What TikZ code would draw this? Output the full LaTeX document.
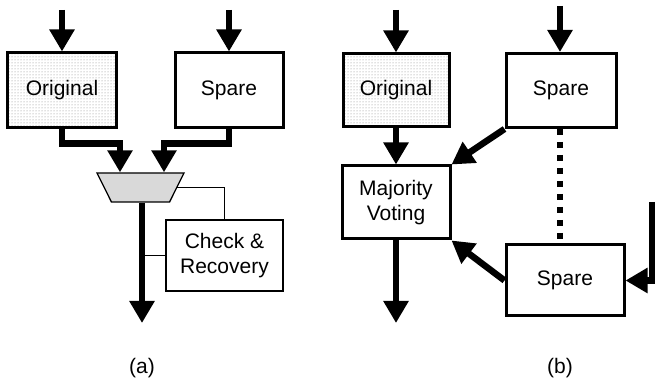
\documentclass[tikz,border=0pt]{standalone}
\usepackage{fontspec}
\setmainfont{Liberation Sans}
\usetikzlibrary{positioning, arrows.meta, shapes.geometric, patterns}

\begin{document}
\begin{tikzpicture}[x=1pt, y=-1pt, on grid,
    font=\fontsize{21}{24.5}\selectfont,
    box/.style = {draw, line width=3pt, align=center},
    unit/.style = {box, pattern=dots, pattern color=black!50},
    bus/.style = {line width=6.5pt, -{Triangle[width=24pt, length=22pt]}},
    wire/.style = {line width=1.3pt},
    dots line/.style = {line width=6.5pt, dash pattern=on 6.5pt off 6.5pt}]
  \useasboundingbox (0,0) rectangle (657,387);

  \node[unit, minimum width=109pt, minimum height=75pt] (origA) at (62,90.5) {Original};
  \node[box, minimum width=108pt, minimum height=75pt] (spareA) [right=167pt of origA] {Spare};
  \node[trapezium, shape border rotate=180, trapezium angle=76, trapezium stretches=true,
        draw, wire, fill=black!15, minimum width=87pt, minimum height=29pt] (mux) at (140.5,187.5) {};
  \node[box, line width=1.3pt, minimum width=117pt, minimum height=71pt] (chkA) at (224.5,255.5) {Check \&\\Recovery};
  \coordinate (inA1) at (62,10);
  \coordinate (inA2) at (229,10);
  \coordinate (outA) at (142,323);
  \node (labA) at (142,368) {(a)};

  \draw[bus] (inA1) -- (origA.north);
  \draw[bus] (inA2) -- (spareA.north);
  \draw[bus] (origA.south) -- ++(0,14) -| ([xshift=-20.5pt]mux.north);
  \draw[bus] (spareA.south) -- ++(0,14) -| ([xshift=23.5pt]mux.north);
  \draw[bus] (mux.south -| outA) -- (outA);
  \draw[wire] (mux.east) -| (chkA.north);
  \draw[wire] (chkA.west) -- (chkA.west -| outA);

  \node[unit, minimum width=106pt, minimum height=73pt] (origB) at (396,90.5) {Original};
  \node[box, minimum width=110pt, minimum height=74pt] (spareB1) [right=165pt of origB] {Spare};
  \node[box, minimum width=108pt, minimum height=73pt] (mvB) [below=112pt of origB] {Majority\\Voting};
  \node[box, minimum width=118pt, minimum height=71pt] (spareB2) at (565,280.5) {Spare};
  \coordinate (inB1) at (396,10);
  \coordinate (inB2) at (560,6);
  \coordinate (inB3) at (652,202);
  \coordinate (outB) at (396,323);
  \node (labB) at (560,368) {(b)};

  \draw[bus] (inB1) -- (origB.north);
  \draw[bus] (inB2) -- (inB2 |- spareB1.north);
  \draw[bus] (origB.south) -- (mvB.north);
  \draw[bus] (mvB.south) -- (outB);
  \draw[bus] (spareB1.south west) -- (mvB.north east);
  \draw[bus] (spareB2.west) -- (mvB.south east);
  \draw[bus] (inB3) |- (spareB2.east);
  \draw[dots line] (inB2 |- spareB1.south) -- (inB2 |- spareB2.north);
\end{tikzpicture}
\end{document}
